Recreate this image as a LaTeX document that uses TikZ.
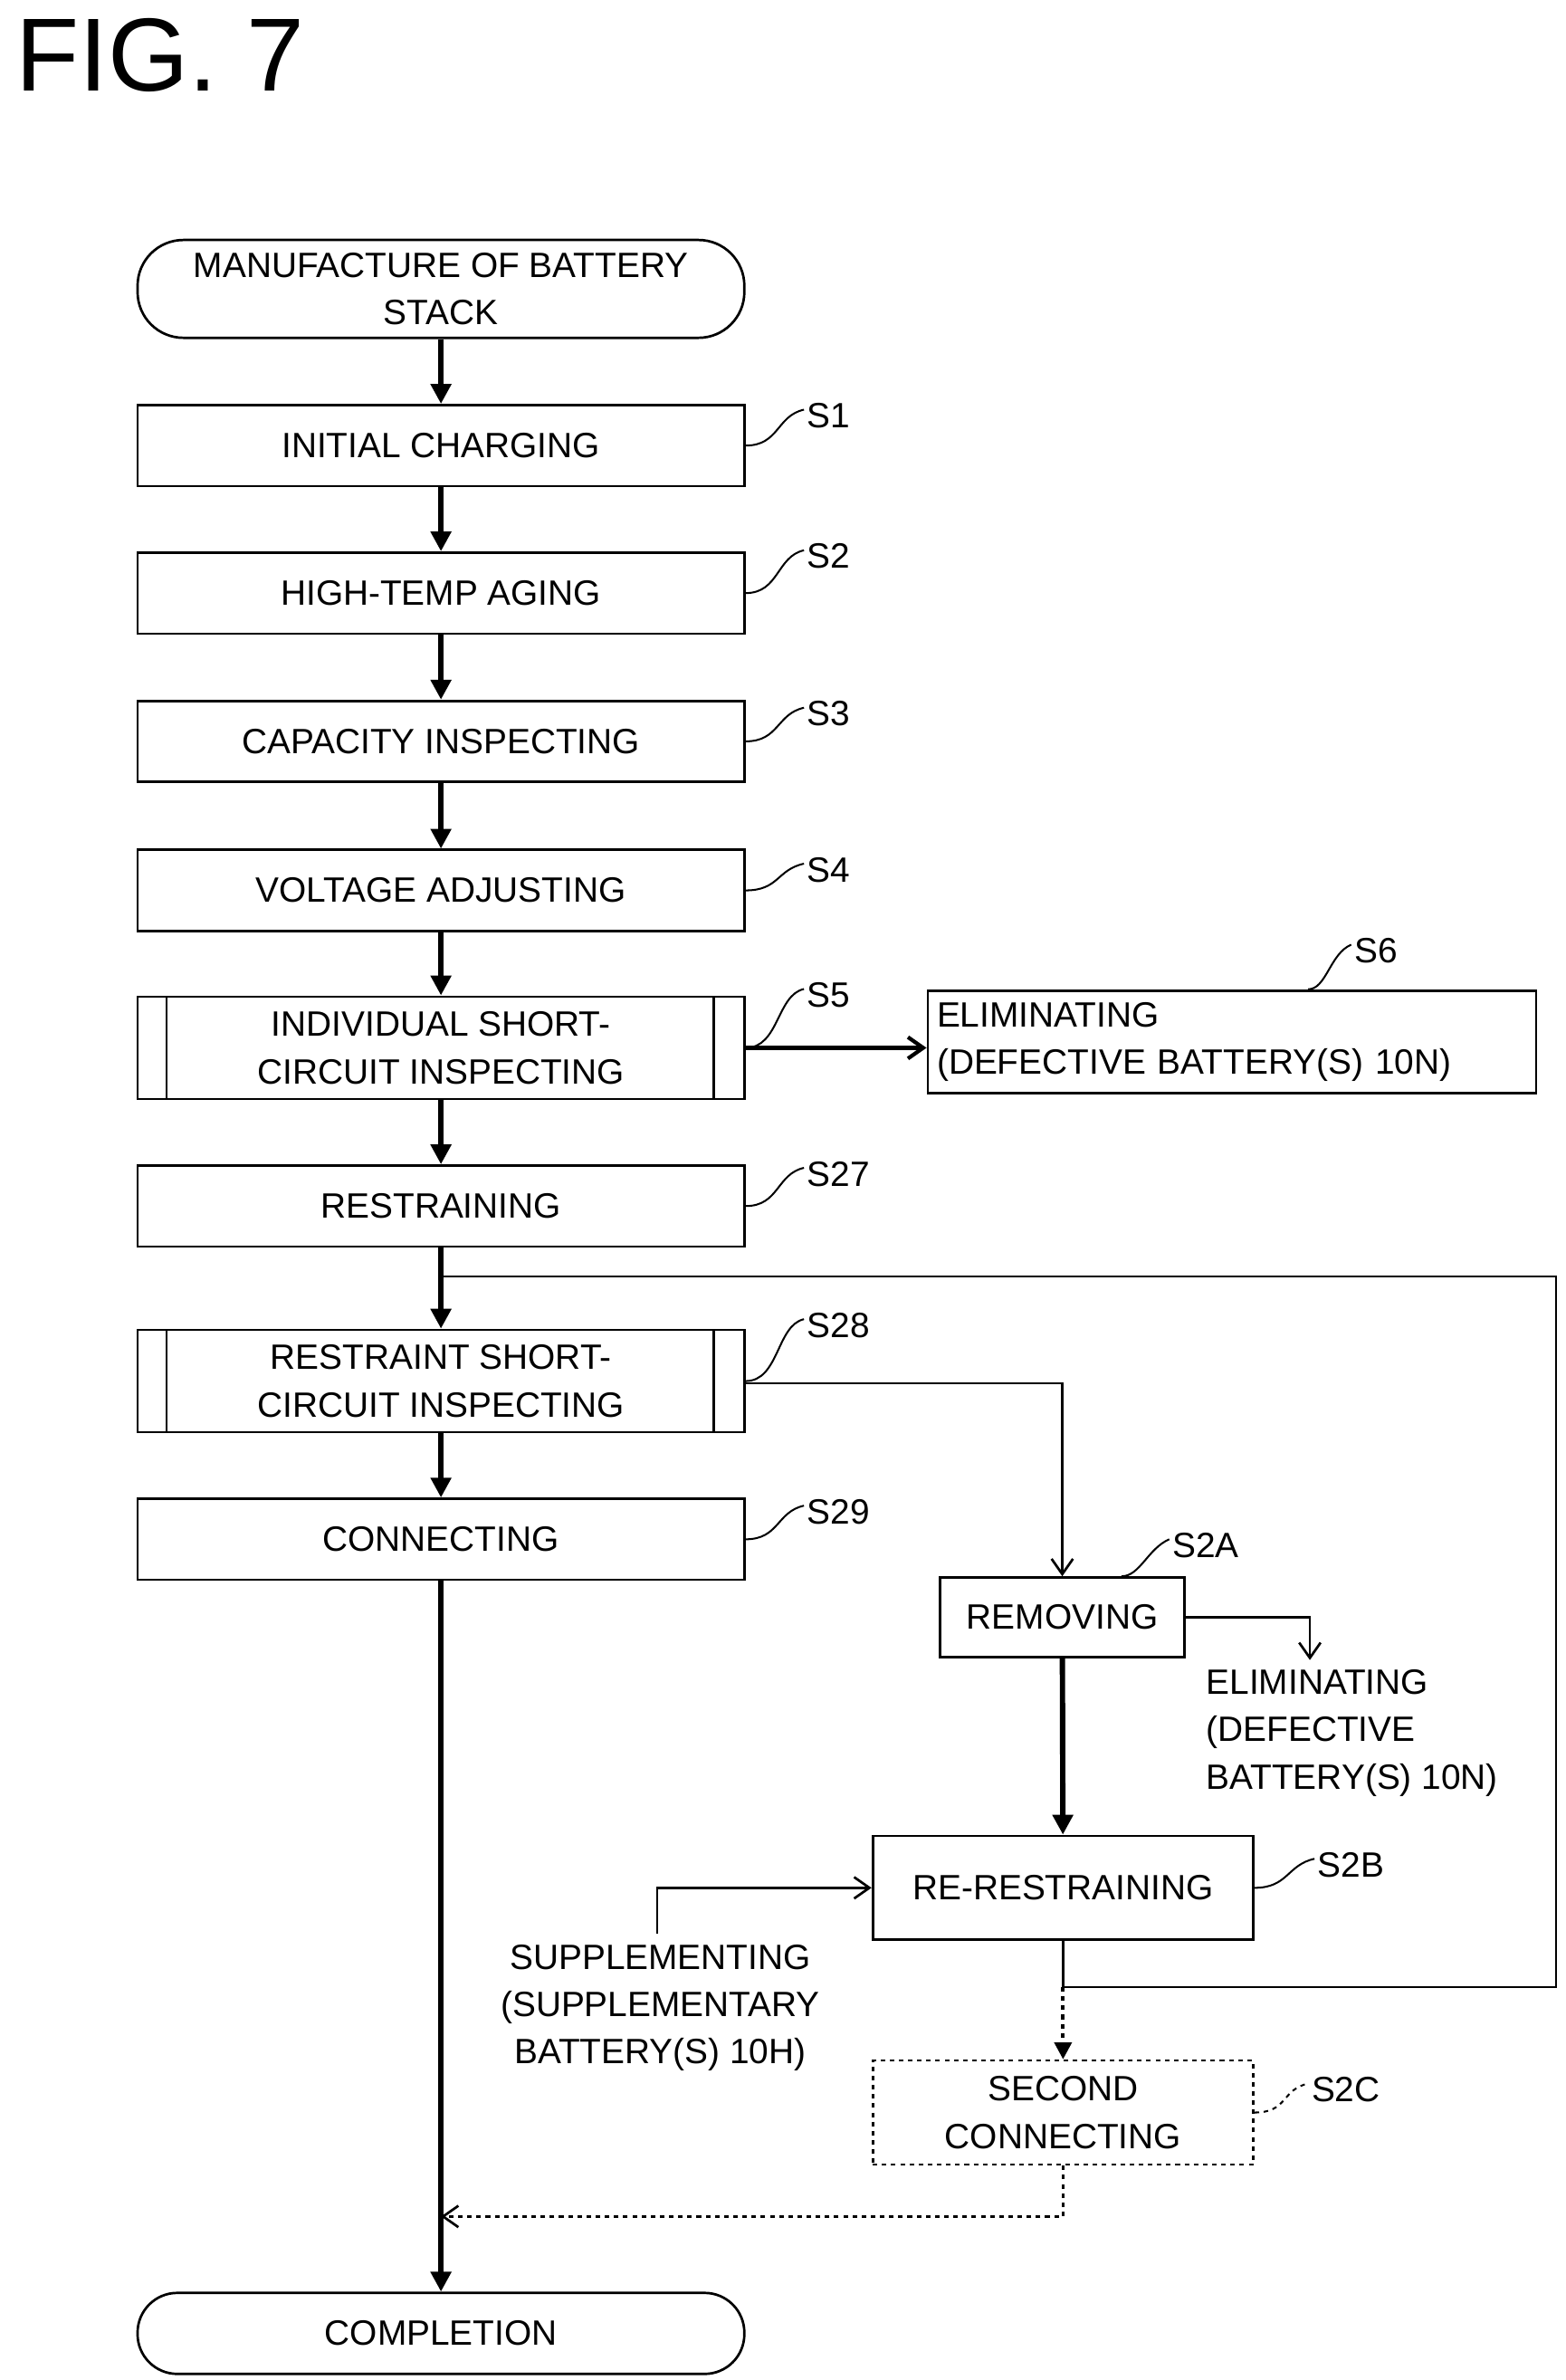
\documentclass[tikz,border=0pt]{standalone}
\usepackage{fontspec}
\setmainfont{Liberation Sans}
\usetikzlibrary{arrows.meta}
\begin{document}
\begin{tikzpicture}[x=1pt,y=-1pt,
  font=\fontsize{23}{31}\selectfont,
  box/.style={draw,line width=1.6pt,minimum width=397pt,minimum height=53pt,inner sep=0pt,align=center},
  tall/.style={box,minimum height=67pt},
  thick arr/.style={line width=3.5pt,-{Triangle[length=13pt,width=13pt]}},
  thin arr/.style={line width=1.6pt,-{Straight Barb[length=10pt,width=14pt]}},
  lab/.style={anchor=west,inner sep=0pt},
  squig/.style={line width=1.2pt}]
\useasboundingbox (0,0) rectangle (1024,1557);
\node[anchor=north west,inner sep=0pt,font=\fontsize{68}{70}\selectfont] (fig) at (10,12) {FIG. 7};
\node[box,rounded corners=30pt,minimum height=64pt] (st) at (288.5,189) {MANUFACTURE OF BATTERY\\STACK};
\node[box] (s1) at (288.5,291.5) {INITIAL CHARGING};
\node[box] (s2) at (288.5,388) {HIGH-TEMP AGING};
\node[box] (s3) at (288.5,485) {CAPACITY INSPECTING};
\node[box] (s4) at (288.5,582.5) {VOLTAGE ADJUSTING};
\node[tall] (s5) at (288.5,685.5) {INDIVIDUAL SHORT-\\CIRCUIT INSPECTING};
\draw[line width=1.6pt] (109,652) -- (109,719) (467,652) -- (467,719);
\node[draw,line width=1.6pt,minimum width=398pt,minimum height=67pt,inner sep=6pt,align=left,text width=386pt] (s6) at (806,681.5) {ELIMINATING\\(DEFECTIVE BATTERY(S) 10N)};
\node[box] (s27) at (288.5,789) {RESTRAINING};
\node[tall] (s28) at (288.5,903.5) {RESTRAINT SHORT-\\CIRCUIT INSPECTING};
\draw[line width=1.6pt] (109,870) -- (109,937) (467,870) -- (467,937);
\node[box] (s29) at (288.5,1007) {CONNECTING};
\node[box,minimum width=160pt,minimum height=52pt] (s2a) at (695,1058) {REMOVING};
\node[box,minimum width=249pt,minimum height=68pt] (s2b) at (695.5,1235) {RE-RESTRAINING};
\node[box,dashed,minimum width=249pt,minimum height=68pt] (s2c) at (695.5,1382) {SECOND\\CONNECTING};
\node[box,rounded corners=26pt,minimum height=53pt] (end) at (288.5,1526.5) {COMPLETION};
\node[align=left,anchor=north west,inner sep=0pt] (elim) at (789,1092) {ELIMINATING\\(DEFECTIVE\\BATTERY(S) 10N)};
\node[align=center,anchor=north,inner sep=0pt] (sup) at (432,1272) {SUPPLEMENTING\\(SUPPLEMENTARY\\BATTERY(S) 10H)};
% labels
\node[lab] (l1) at (528,272) {S1};
\node[lab] (l2) at (528,364) {S2};
\node[lab] (l3) at (528,467) {S3};
\node[lab] (l4) at (528,569) {S4};
\node[lab] (l5) at (528,651) {S5};
\node[lab] (l6) at (886,622) {S6};
\node[lab] (l27) at (528,768) {S27};
\node[lab] (l28) at (528,867) {S28};
\node[lab] (l29) at (528,989) {S29};
\node[lab] (l2a) at (767,1011) {S2A};
\node[lab] (l2b) at (862,1220) {S2B};
\node[lab] (l2c) at (858,1367) {S2C};
\foreach \b/\l in {s1/l1,s2/l2,s3/l3,s4/l4,s5/l5,s27/l27,s28/l28,s29/l29}
  \draw[squig] (\b.east) .. controls +(22,0) and +(-18,4) .. ([xshift=-2pt,yshift=4pt]\l.west);
\draw[squig] (s6.north east) ++(-150,0) .. controls +(12,0) and +(-14,6) .. ([xshift=-2pt,yshift=4pt]l6.west);
\draw[squig] ([xshift=-42pt]s2a.north east) .. controls +(12,0) and +(-14,6) .. ([xshift=-2pt,yshift=4pt]l2a.west);
\draw[squig] (s2b.east) .. controls +(22,0) and +(-18,4) .. ([xshift=-2pt,yshift=4pt]l2b.west);
\draw[squig,dashed] (s2c.east) .. controls +(22,0) and +(-18,4) .. ([xshift=-2pt,yshift=4pt]l2c.west);
% main flow
\draw[thick arr] (st) -- (s1);
\draw[thick arr] (s1) -- (s2);
\draw[thick arr] (s2) -- (s3);
\draw[thick arr] (s3) -- (s4);
\draw[thick arr] (s4) -- (s5);
\draw[thick arr] (s5) -- (s27);
\draw[thick arr] (s27) -- (s28);
\draw[thick arr] (s28) -- (s29);
\draw[thick arr] (s29) -- (end);
\draw[line width=2.5pt,-{Straight Barb[length=10pt,width=14pt]}] (s5.east) -- (s6.west |- s5.east);
\draw[thin arr] (s28.east |- 0,905) -| (s2a.north);
\draw[thin arr] (s2a.east) -| (857,1086);
\draw[thick arr] (s2a) -- (s2b);
\draw[thin arr] (430,1265) |- (s2b.west);
\coordinate (j) at (695.5,1300);
\coordinate (m) at (288.5,835);
\draw[line width=1.6pt] (s2b.south) -- (j) -| (1018,835) -- (m);
\draw[line width=2.5pt,dashed,-{Triangle[length=11pt,width=11pt]}] (j) -- (s2c.north);
\draw[line width=1.6pt,dashed,-{Straight Barb[length=10pt,width=14pt]}] (s2c.south) |- (288.5,1450);
\end{tikzpicture}
\end{document}
